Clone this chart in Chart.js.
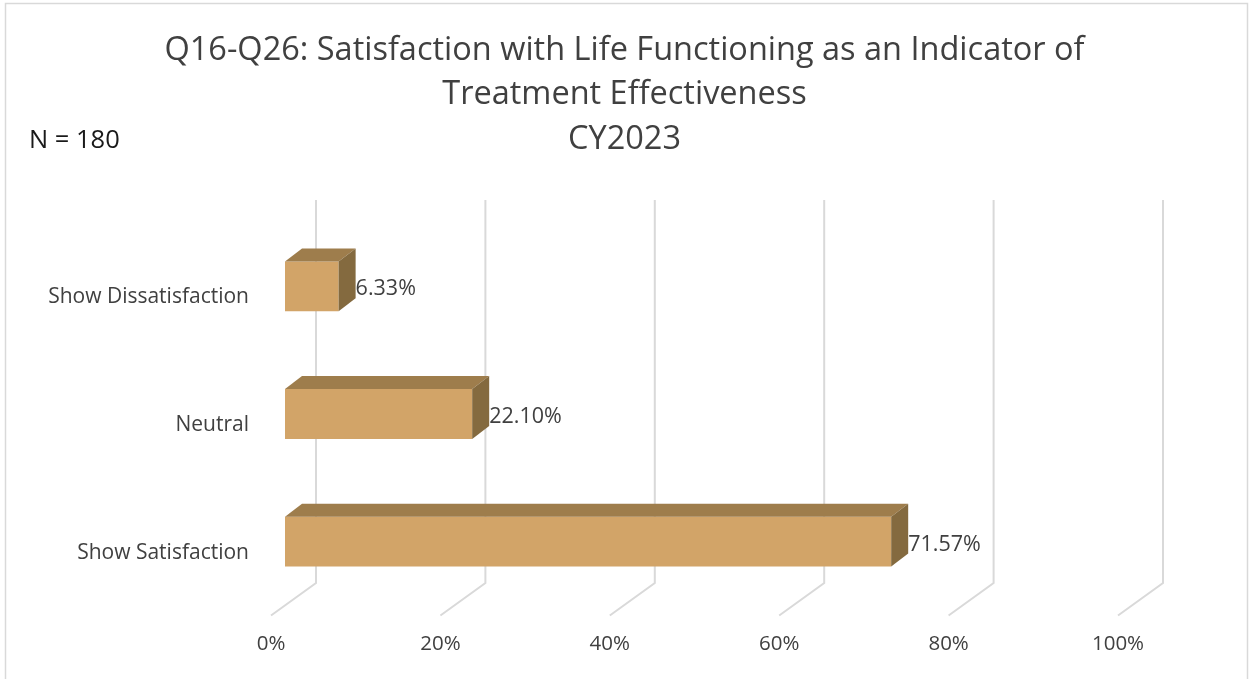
<!DOCTYPE html>
<html>
<head>
<meta charset="utf-8">
<script src="https://cdn.jsdelivr.net/npm/chart.js@4.4.1/dist/chart.umd.min.js"></script>
<style>
  html, body { margin: 0; padding: 0; background: #fff; }
  #wrap { width: 1249px; height: 679px; position: relative; }
</style>
</head>
<body>
<div id="wrap"><canvas id="myBarChart"></canvas></div>
<script>
// data
const categories = ['Show Dissatisfaction', 'Neutral', 'Show Satisfaction'];
const percentValues = [6.33, 22.10, 71.57];
const tickValues = [0, 20, 40, 60, 80, 100];
const titleLines = ['Q16-Q26: Satisfaction with Life Functioning as an Indicator of', 'Treatment Effectiveness', 'CY2023'];
const sampleNote = 'N = 180';

// 3d offsets (from bar front plane)
const BACK = { dx: 31, dy: -22.5 };   // back wall
const FLOOR = { dx: -14, dy: 10 };    // front edge of the floor
const DEPTH = { dx: 17, dy: -13 };    // bar depth

const FONT = "'Open Sans'";
const FRONT_COLOR = '#D2A468';
const TOP_COLOR = '#9E7D4C';
const SIDE_COLOR = '#846A3F';
const TEXT_COLOR = '#404040';

const frameAndGridPlugin = {
    id: 'frameAndGrid',
    beforeDraw: (chart) => {
        const ctx = chart.ctx;
        ctx.save();
        // outer border
        ctx.strokeStyle = '#d9d9d9';
        ctx.lineWidth = 1.5;
        ctx.strokeRect(5.5, 3.5, 1242, 700);
        // N = 180
        ctx.fillStyle = '#1a1a1a';
        ctx.font = '25.5px ' + FONT;
        ctx.textAlign = 'left';
        ctx.textBaseline = 'middle';
        ctx.fillText(sampleNote, 29, 141);
        ctx.restore();
    },
    beforeDatasetsDraw: (chart) => {
        const { ctx, chartArea: { top, bottom }, scales: { x } } = chart;
        ctx.save();
        ctx.strokeStyle = '#d9d9d9';
        ctx.lineWidth = 2;
        tickValues.forEach(v => {
            const px = x.getPixelForValue(v);
            ctx.beginPath();
            ctx.moveTo(px + BACK.dx, top + BACK.dy);
            ctx.lineTo(px + BACK.dx, bottom + BACK.dy);
            ctx.lineTo(px + FLOOR.dx, bottom + FLOOR.dy);
            ctx.stroke();
        });
        ctx.restore();
    },
    afterDatasetsDraw: (chart) => {
        const ctx = chart.ctx;
        const meta = chart.getDatasetMeta(0);
        ctx.save();
        meta.data.forEach((bar, i) => {
            const p = bar.getProps(['x', 'y', 'base', 'height'], true);
            const t = p.y - p.height / 2;
            const b = p.y + p.height / 2;
            // top face
            ctx.fillStyle = TOP_COLOR;
            ctx.beginPath();
            ctx.moveTo(p.base, t);
            ctx.lineTo(p.x, t);
            ctx.lineTo(p.x + DEPTH.dx, t + DEPTH.dy);
            ctx.lineTo(p.base + DEPTH.dx, t + DEPTH.dy);
            ctx.closePath();
            ctx.fill();
            // right face
            ctx.fillStyle = SIDE_COLOR;
            ctx.beginPath();
            ctx.moveTo(p.x, t);
            ctx.lineTo(p.x + DEPTH.dx, t + DEPTH.dy);
            ctx.lineTo(p.x + DEPTH.dx, b + DEPTH.dy);
            ctx.lineTo(p.x, b);
            ctx.closePath();
            ctx.fill();
            // value label
            ctx.fillStyle = TEXT_COLOR;
            ctx.font = '21.5px ' + FONT;
            ctx.textAlign = 'left';
            ctx.textBaseline = 'middle';
            ctx.fillText(percentValues[i].toFixed(2) + '%', p.x + DEPTH.dx, p.y + 3);
        });
        ctx.restore();
    }
};

new Chart(document.getElementById('myBarChart').getContext('2d'), {
    type: 'bar',
    data: {
        labels: categories,
        datasets: [{
            data: percentValues,
            backgroundColor: FRONT_COLOR,
            borderWidth: 0,
            categoryPercentage: 1.0,
            barPercentage: 0.39
        }]
    },
    options: {
        indexAxis: 'y',
        responsive: true,
        maintainAspectRatio: false,
        animation: false,
        layout: { padding: 0 },
        scales: {
            x: {
                min: 0,
                max: 100,
                grid: { display: false, drawTicks: false },
                border: { display: false },
                ticks: {
                    stepSize: 20,
                    padding: 26,
                    labelOffset: FLOOR.dx,
                    color: TEXT_COLOR,
                    font: { family: FONT, size: 20.5 },
                    callback: (v) => v + '%'
                },
                afterFit: (scale) => { scale.height = 73.5; }
            },
            y: {
                grid: { display: false, drawTicks: false },
                border: { display: false },
                ticks: {
                    padding: 36,
                    labelOffset: 11,
                    color: TEXT_COLOR,
                    font: { family: FONT, size: 21 }
                },
                afterFit: (scale) => { scale.width = 285; }
            },
            // empty right-hand spacer so the plot ends at the 100% mark
            spacer: {
                type: 'linear',
                position: 'right',
                grid: { display: false, drawTicks: false },
                border: { display: false },
                ticks: { display: false },
                afterFit: (scale) => { scale.width = 117; }
            }
        },
        plugins: {
            legend: { display: false },
            tooltip: { enabled: false },
            title: {
                display: true,
                text: titleLines,
                color: TEXT_COLOR,
                font: { family: FONT, size: 32.5, weight: 'normal', lineHeight: '44.5px' },
                padding: { top: 28, bottom: 61 }
            }
        }
    },
    plugins: [frameAndGridPlugin]
});
</script>
</body>
</html>
